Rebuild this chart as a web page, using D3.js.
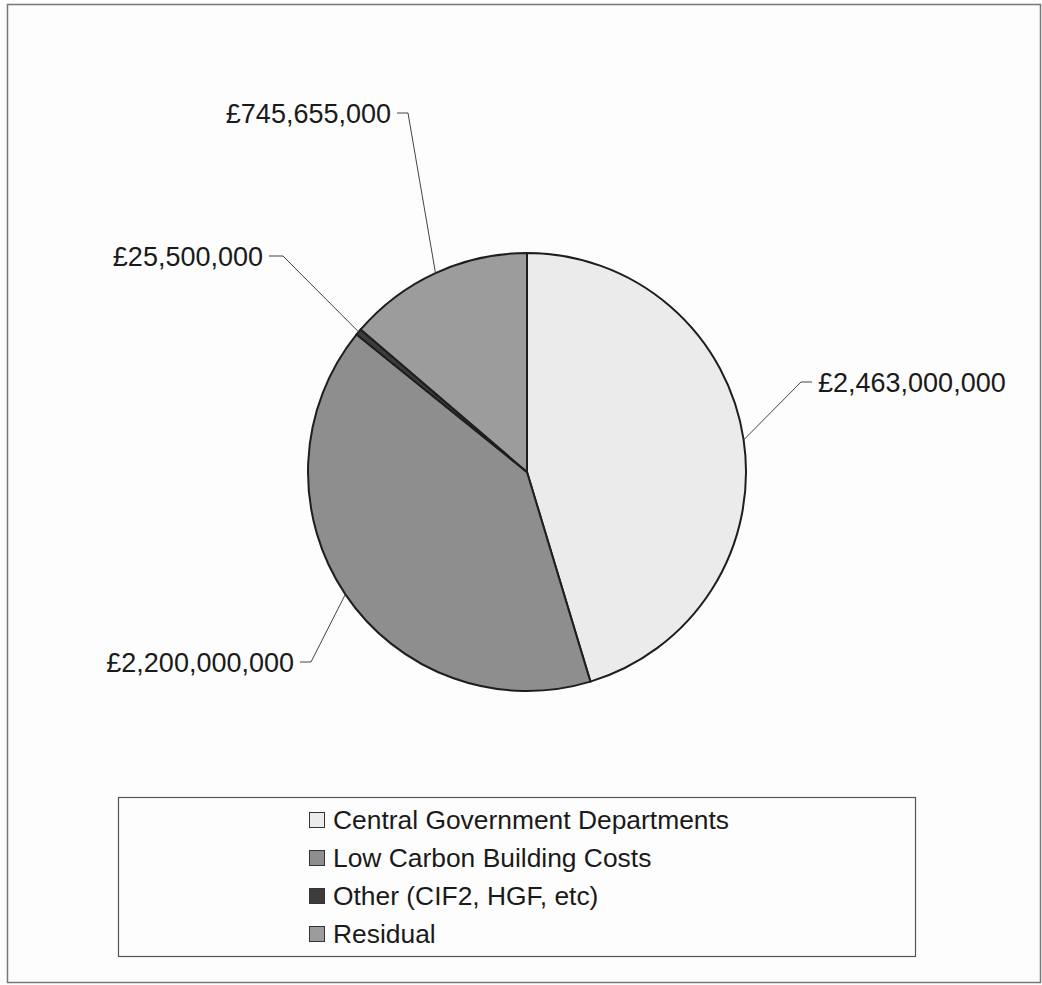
<!DOCTYPE html>
<html><head><meta charset="utf-8">
<script src="https://cdn.jsdelivr.net/npm/d3@7"></script>
<style>body{margin:0;background:#fdfdfd}svg{display:block}</style>
</head><body>
<svg id="c" width="1042" height="985"></svg>
<script>
const categories = ["Central Government Departments","Low Carbon Building Costs","Other (CIF2, HGF, etc)","Residual"];
const values = [2463000000, 2200000000, 25500000, 745655000];
const labels = ["£2,463,000,000","£2,200,000,000","£25,500,000","£745,655,000"];
const colors = ["#ebebeb","#8e8e8e","#3c3c3c","#9c9c9c"];

const svg = d3.select("#c");
const font = "'Liberation Sans', Arial, sans-serif";
// outer frame
svg.append("rect").attr("x",7.5).attr("y",4.5).attr("width",1033).attr("height",978)
  .attr("fill","#fdfdfd").attr("stroke","#777").attr("stroke-width",1.5);

const cx = 527, cy = 472, r = 219;
const pie = d3.pie().sort(null).value(d=>d);
const arcs = pie(values);
const arc = d3.arc().innerRadius(0).outerRadius(r);
const g = svg.append("g").attr("transform",`translate(${cx},${cy})`);
g.selectAll("path").data(arcs).enter().append("path")
  .attr("d",arc).attr("fill",(d,i)=>colors[i])
  .attr("stroke","#1e1e1e").attr("stroke-width",2);

const labelPos = [
  {tx:818, ty:383, ex:801, anchor:"start"},
  {tx:294, ty:663, ex:311, anchor:"end"},
  {tx:263, ty:257, ex:283, anchor:"end"},
  {tx:391, ty:114, ex:408, anchor:"end"}
];
arcs.forEach((a,i)=>{
  const p = labelPos[i];
  const mid = (a.startAngle+a.endAngle)/2;
  const ex = r*Math.sin(mid), ey = -r*Math.cos(mid);
  const sx = p.anchor==="start" ? p.tx-6 : p.tx+6;
  svg.append("polyline")
    .attr("points",`${cx+ex},${cy+ey} ${p.ex},${p.ty-1} ${sx},${p.ty-1}`)
    .attr("fill","none").attr("stroke","#444").attr("stroke-width",1);
  svg.append("text").attr("x",p.tx).attr("y",p.ty).attr("dy","0.35em")
    .attr("text-anchor",p.anchor).attr("font-family",font).attr("font-size",27)
    .attr("fill","#1a1a1a").text(labels[i]);
});

// legend
svg.append("rect").attr("x",118.5).attr("y",797.5).attr("width",797).attr("height",159)
  .attr("fill","#fdfdfd").attr("stroke","#555").attr("stroke-width",1.2);
const lg = svg.append("g");
categories.forEach((c,i)=>{
  const y = 820 + i*38;
  lg.append("rect").attr("x",309.5).attr("y",y-7.5).attr("width",15).attr("height",15)
    .attr("fill",colors[i]).attr("stroke","#333").attr("stroke-width",1);
  lg.append("text").attr("x",333).attr("y",y).attr("dy","0.35em")
    .attr("font-family",font).attr("font-size",26.4).attr("fill","#1a1a1a").text(c);
});
</script>
</body></html>
